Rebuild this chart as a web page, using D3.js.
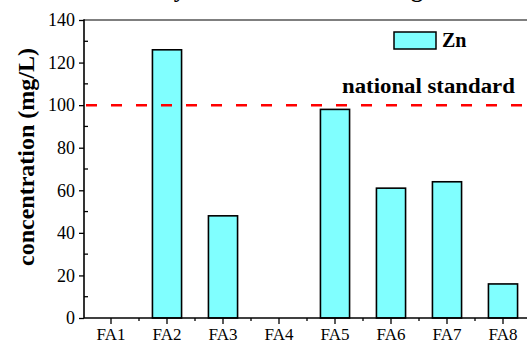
<!DOCTYPE html>
<html><head><meta charset="utf-8">
<script src="https://cdn.jsdelivr.net/npm/d3@7"></script>
</head>
<body style="margin:0;background:#fff">
<svg id="c" width="527" height="343" style="display:block"></svg>
<script>
const categories = ["FA1","FA2","FA3","FA4","FA5","FA6","FA7","FA8"];
const znValues = [0,126,48,0,98,61,64,16];
const yTicks = [0,20,40,60,80,100,120,140];
const standardValue = 100;
const seriesName = "Zn";
const standardLabel = "national standard";
const yTitle = "concentration (mg/L)";
const chartTitle = "Toxicity characteristic leaching";

(function(){
const svg = d3.select("#c");
const pLeft = 84, pTop = 20, pBottom = 318;
const serif = "\"Liberation Serif\"";

const x = d3.scaleBand().domain(categories).range([83, 531]).paddingInner(0.48).paddingOuter(0.24);
const y = d3.scaleLinear().domain([0,140]).range([pBottom, pTop]);

// title (mostly cut off at top)
svg.append("text").attr("x", 104).attr("y", -3).style("font-family", serif)
  .style("font-size", "24px").style("font-weight", "bold").text(chartTitle);

// top frame line
svg.append("line").attr("x1", pLeft).attr("x2", 527).attr("y1", pTop).attr("y2", pTop)
  .attr("stroke", "#555").attr("stroke-width", 1.5);

// bars
svg.selectAll("rect.bar").data(categories.map((c,i)=>({c, v: znValues[i]})).filter(d=>d.v>0))
  .enter().append("rect").attr("class","bar")
  .attr("x", d=>x(d.c)).attr("width", x.bandwidth())
  .attr("y", d=>y(d.v)).attr("height", d=>y(0)-y(d.v))
  .attr("fill", "#80ffff").attr("stroke", "#000").attr("stroke-width", 1.6);

// national standard line
svg.append("line").attr("x1", pLeft).attr("x2", 527)
  .attr("y1", y(standardValue)).attr("y2", y(standardValue))
  .attr("stroke", "#ff0000").attr("stroke-width", 2.5).attr("stroke-dasharray", "11,14")
  .attr("stroke-dashoffset", -2);
svg.append("text").attr("x", 342).attr("y", 93).style("font-size", "20px").style("font-family", serif)
  .style("font-weight","bold").attr("transform","translate(342,0) scale(1.14,1) translate(-342,0)")
  .text(standardLabel);

// legend
svg.append("rect").attr("x", 394).attr("y", 32).attr("width", 42).attr("height", 17)
  .attr("fill", "#80ffff").attr("stroke", "#000").attr("stroke-width", 1.5);
svg.append("text").attr("x", 442).attr("y", 47).style("font-size", "20px").style("font-family", serif)
  .style("font-weight","bold").text(seriesName);

// y axis
const yAxis = d3.axisLeft(y).tickValues(yTicks).tickSize(5).tickPadding(4).tickFormat(d3.format("d"));
const gy = svg.append("g").attr("transform", `translate(${pLeft},0)`).call(yAxis);
gy.attr("font-family", null).attr("font-size", null);
gy.select(".domain").remove();
gy.selectAll("text").style("font-size", "18px").style("font-family", serif);
gy.selectAll("line").attr("stroke", "#000").attr("stroke-width", 1.3);
// minor y ticks (inside)
const yMinor = d3.range(10, 140, 20);
svg.append("g").selectAll("line").data(yMinor).enter().append("line")
  .attr("x1", pLeft).attr("x2", pLeft+4).attr("y1", d=>y(d)).attr("y2", d=>y(d))
  .attr("stroke", "#000").attr("stroke-width", 1.3);
svg.append("line").attr("x1", pLeft).attr("x2", pLeft).attr("y1", pTop-0.75).attr("y2", pBottom)
  .attr("stroke", "#000").attr("stroke-width", 1.6);

// x axis
const xAxis = d3.axisBottom(x).tickSize(6).tickPadding(4);
const gx = svg.append("g").attr("transform", `translate(0,${pBottom})`).call(xAxis);
gx.attr("font-family", null).attr("font-size", null);
gx.select(".domain").remove();
gx.selectAll("text").style("font-size", "17px").style("font-family", serif);
gx.selectAll("line").attr("stroke", "#000").attr("stroke-width", 1.3);
const xMinor = categories.slice(1).map(c => x(c) - x.step()*x.paddingInner()/2);
svg.append("g").selectAll("line").data(xMinor).enter().append("line")
  .attr("x1", d=>d).attr("x2", d=>d).attr("y1", pBottom).attr("y2", pBottom+3)
  .attr("stroke", "#000").attr("stroke-width", 1.3);
svg.append("line").attr("x1", pLeft).attr("x2", 527).attr("y1", pBottom).attr("y2", pBottom)
  .attr("stroke", "#000").attr("stroke-width", 1.6);

// y title
svg.append("text").attr("transform", "translate(34,157) rotate(-90)").style("font-family", serif)
  .attr("text-anchor","middle").style("font-size", "24px").style("font-weight","bold").text(yTitle);
})();
</script>
</body></html>
